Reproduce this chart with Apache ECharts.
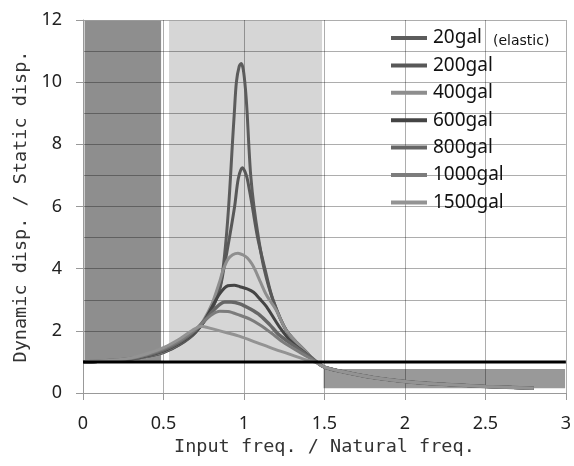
<!DOCTYPE html>
<html>
<head>
<meta charset="utf-8">
<script src="https://cdn.jsdelivr.net/npm/echarts@6/dist/echarts.min.js"></script>
<style>
  html, body { margin: 0; padding: 0; background: #fff; }
  #chart { width: 574px; height: 466px; }
</style>
</head>
<body>
<div id="chart"></div>
<script>
// 各入力レベルの応答倍率 (入力振動数比, 動的変位/静的変位)
const seriesNames = ['20gal', '200gal', '400gal', '600gal', '800gal', '1000gal', '1500gal'];
const seriesColors = ['#5c5c5c', '#585858', '#8e8e8e', '#444444', '#666666', '#7c7c7c', '#939393'];

// 1.5 以降はほぼ全ケース同じ
const tailPts = [[1.5, 0.83], [1.6, 0.7], [1.8, 0.5], [2.0, 0.37], [2.2, 0.29], [2.5, 0.21], [2.8, 0.15]];

const gal20 = [[0, 1], [0.2, 1.04], [0.3, 1.09], [0.4, 1.18], [0.5, 1.3], [0.6, 1.55], [0.7, 1.95], [0.8, 2.7],
    [0.85, 3.4], [0.87, 4.0], [0.89, 5.0], [0.905, 6.0], [0.917, 7.0], [0.928, 8.0], [0.94, 9.0], [0.953, 10.0],
    [0.97, 10.5], [0.983, 10.6], [0.996, 10.4], [1.009, 9.8], [1.02, 9.0], [1.03, 8.0], [1.042, 7.0], [1.062, 6.0],
    [1.09, 5.0], [1.125, 4.0], [1.18, 3.0], [1.265, 2.0], [1.39, 1.3], [1.45, 1.0]];
const gal200 = [[0, 1], [0.2, 1.04], [0.3, 1.09], [0.4, 1.18], [0.5, 1.31], [0.6, 1.56], [0.7, 1.96], [0.8, 2.7],
    [0.85, 3.35], [0.875, 4.0], [0.91, 5.0], [0.942, 6.0], [0.965, 6.9], [0.99, 7.25], [1.015, 7.0], [1.035, 6.5],
    [1.052, 6.0], [1.085, 5.0], [1.13, 4.0], [1.18, 3.0], [1.265, 2.0], [1.39, 1.3], [1.45, 1.0]];
const gal400 = [[0, 1], [0.2, 1.04], [0.3, 1.1], [0.4, 1.19], [0.5, 1.33], [0.6, 1.6], [0.7, 2.0], [0.75, 2.35],
    [0.8, 2.85], [0.85, 3.6], [0.87, 3.95], [0.9, 4.3], [0.93, 4.45], [0.963, 4.5], [0.995, 4.44], [1.02, 4.35],
    [1.05, 4.15], [1.07, 3.95], [1.1, 3.6], [1.14, 3.15], [1.2, 2.67], [1.265, 2.0], [1.39, 1.3], [1.45, 1.0]];
const gal600 = [[0, 1], [0.2, 1.04], [0.3, 1.1], [0.4, 1.2], [0.5, 1.35], [0.6, 1.6], [0.7, 1.98], [0.75, 2.3],
    [0.8, 2.75], [0.85, 3.2], [0.9, 3.45], [0.94, 3.47], [0.975, 3.42], [1.02, 3.35], [1.06, 3.24], [1.1, 3.02],
    [1.14, 2.78], [1.22, 2.13], [1.3, 1.62], [1.39, 1.25], [1.45, 1.0]];
const gal800 = [[0, 1], [0.2, 1.05], [0.3, 1.11], [0.4, 1.22], [0.5, 1.38], [0.6, 1.64], [0.7, 2.02], [0.75, 2.3],
    [0.8, 2.6], [0.85, 2.85], [0.88, 2.93], [0.92, 2.93], [0.975, 2.87], [1.04, 2.7], [1.1, 2.5], [1.16, 2.2],
    [1.22, 1.86], [1.35, 1.38], [1.45, 1.0]];
const gal1000 = [[0, 1], [0.2, 1.05], [0.3, 1.12], [0.4, 1.24], [0.5, 1.42], [0.6, 1.68], [0.7, 2.05], [0.75, 2.3],
    [0.8, 2.52], [0.85, 2.63], [0.9, 2.62], [0.975, 2.5], [1.04, 2.37], [1.1, 2.19], [1.17, 1.93], [1.24, 1.65],
    [1.35, 1.3], [1.45, 1.0]];
const gal1500 = [[0, 1], [0.2, 1.06], [0.3, 1.13], [0.4, 1.27], [0.5, 1.46], [0.6, 1.74], [0.68, 2.02], [0.735, 2.15],
    [0.8, 2.07], [0.9, 1.93], [0.975, 1.82], [1.08, 1.62], [1.18, 1.43], [1.3, 1.22], [1.39, 1.06], [1.45, 0.98]];

const allCurves = [gal20, gal200, gal400, gal600, gal800, gal1000, gal1500];

// 静的変位 = 1 の基準線
const staticLine = [[0, 1], [3, 1]];

// 背景の帯 [x0, y0, x1, y1]
const bands = [
    [0.005, 1, 0.49, 12],
    [0.53, 1, 1.49, 12],
    [1.49, 0.13, 3, 0.8]
];
const bandColors = ['#8e8e8e', '#d6d6d6', '#999999'];

const chart = echarts.init(document.getElementById('chart'));

const lineSeries = allCurves.map((pts, i) => ({
    name: seriesNames[i],
    type: 'line',
    data: pts.concat(tailPts),
    showSymbol: false,
    smooth: 0.3,
    lineStyle: { color: seriesColors[i], width: i === 4 ? 3.5 : 3 },
    itemStyle: { color: seriesColors[i] },
    z: 12
}));

// MS ゴシック風の等幅フォント
const nameFont = { fontFamily: 'DejaVu Sans Mono', fontSize: 18.5, color: '#333' };
const labelFont = { fontFamily: 'Noto Sans', fontSize: 18, color: '#222' };
const gridLine = { color: 'rgba(0,0,0,0.32)', width: 1 };

// 帯は目盛線の下に描く
function renderBand(params, api) {
    const p0 = api.coord([api.value(0), api.value(3)]);
    const p1 = api.coord([api.value(2), api.value(1)]);
    return {
        type: 'rect',
        shape: { x: p0[0], y: p0[1], width: p1[0] - p0[0], height: p1[1] - p0[1] },
        style: { fill: bandColors[params.dataIndex], stroke: '#fff', lineWidth: 1.5 }
    };
}

const option = {
    animation: false,
    grid: { left: 83, right: 7, top: 20, bottom: 73, z: 5 },
    legend: {
        data: seriesNames,
        orient: 'vertical',
        left: 386,
        top: 23,
        z: 14,
        icon: 'rect',
        itemWidth: 36,
        itemHeight: 4,
        itemGap: 7.4,
        textStyle: { fontFamily: 'Noto Sans', fontSize: 19, color: '#111', lineHeight: 20, padding: [0, 0, 0, 1] }
    },
    xAxis: {
        type: 'value',
        min: 0,
        max: 3,
        interval: 0.5,
        z: 5,
        name: 'Input freq. / Natural freq.',
        nameLocation: 'middle',
        nameGap: 41,
        nameTextStyle: nameFont,
        axisLine: { show: true, lineStyle: { color: '#999', width: 1 } },
        axisTick: { show: true, length: 7, lineStyle: { color: '#999' } },
        axisLabel: Object.assign({ margin: 22 }, labelFont),
        splitLine: { show: true, lineStyle: gridLine }
    },
    yAxis: {
        type: 'value',
        min: 0,
        max: 12,
        interval: 2,
        z: 5,
        name: 'Dynamic disp. / Static disp.',
        nameLocation: 'middle',
        nameGap: 49,
        nameTextStyle: nameFont,
        axisLine: { show: true, lineStyle: { color: '#999', width: 1 } },
        axisTick: { show: true, length: 7, lineStyle: { color: '#999' } },
        axisLabel: Object.assign({ margin: 21 }, labelFont),
        splitLine: { show: true, lineStyle: gridLine },
        minorTick: { show: false, splitNumber: 2 },
        minorSplitLine: { show: true, lineStyle: gridLine }
    },
    graphic: [{
        type: 'text',
        left: 493,
        top: 34,
        z: 14,
        style: { text: '(elastic)', fontFamily: 'DejaVu Sans', fontSize: 14, fill: '#111' }
    }],
    series: [
        {
            name: 'bands',
            type: 'custom',
            data: bands,
            encode: { x: [0, 2], y: [1, 3] },
            renderItem: renderBand,
            silent: true,
            z: -1
        },
        ...lineSeries,
        {
            name: 'static',
            type: 'line',
            data: staticLine,
            showSymbol: false,
            lineStyle: { color: '#000', width: 3 },
            z: 13
        }
    ]
};

chart.setOption(option);
</script>
</body>
</html>
